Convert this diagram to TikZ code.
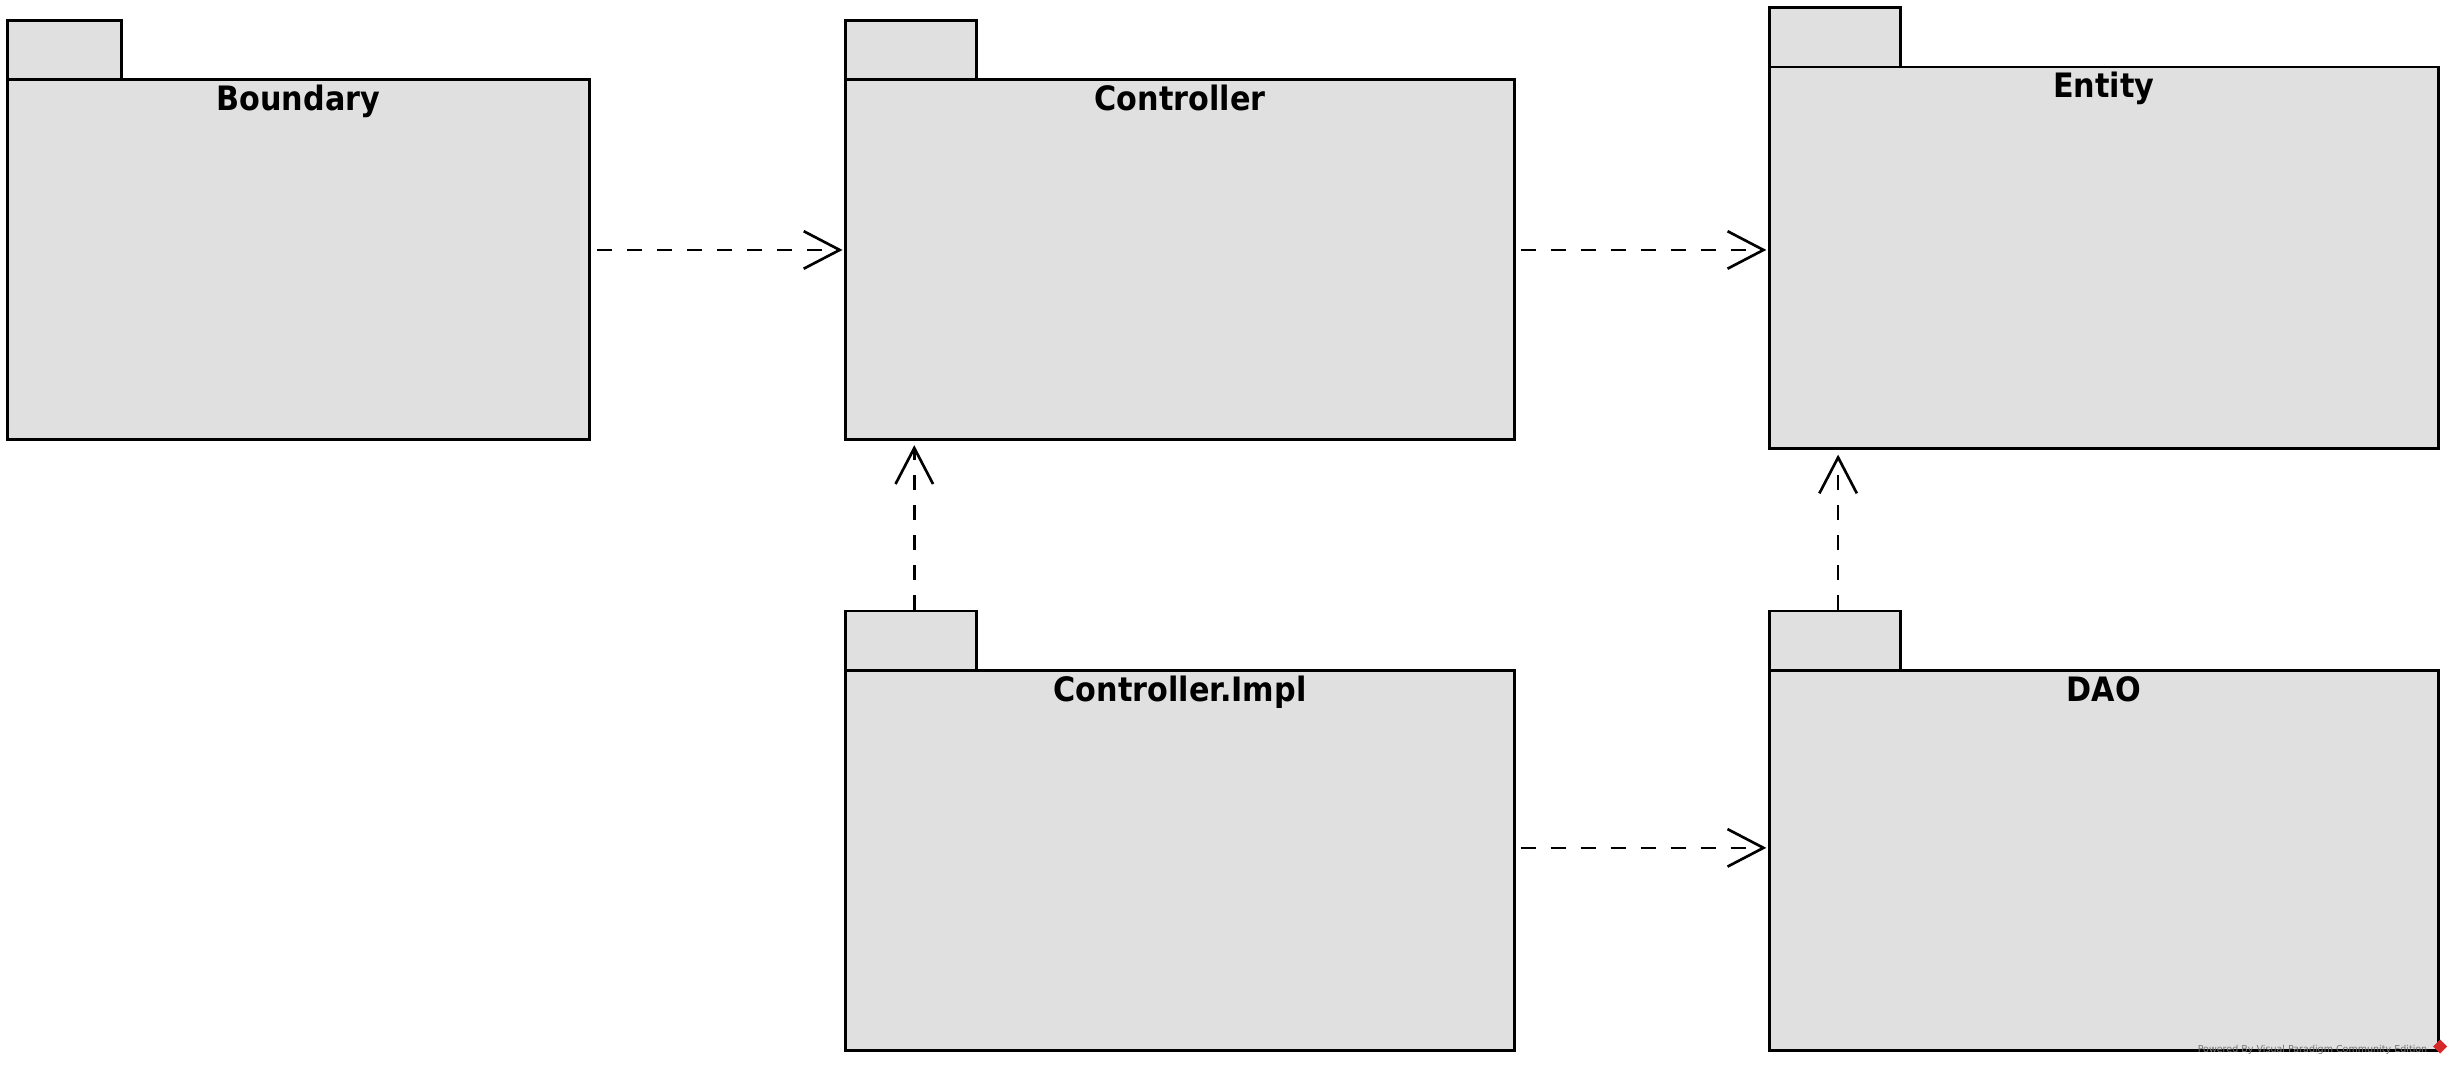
\documentclass[tikz,border=0pt]{standalone}
\usepackage{fontspec}
\newfontfamily\pkgfont[FakeStretch=0.9]{DejaVu Sans}
\newfontfamily\wmfont{DejaVu Sans}
\usetikzlibrary{arrows.meta,calc}
\definecolor{pkgfill}{RGB}{224,224,224}
\definecolor{wmred}{RGB}{214,40,40}
\newcommand\pkgdraw[7]{%
  \node[pkgtab, minimum width=#6] (#1t) at (#2,#3-38) {};
  \node[pkgbody, minimum width=#4, minimum height=#5] (#1) at (#2,#3) {};
  \node[pkgtitle] (#1l) at ($(#1.north)+(0,20.5)$) {#7};
}
\begin{document}
\begin{tikzpicture}[x=1pt,y=-1pt,
  pkgbody/.style={draw=black, fill=pkgfill, line width=1.8pt, rectangle, inner sep=0pt, anchor=north west},
  pkgtab/.style={draw=black, fill=pkgfill, line width=1.8pt, rectangle, inner sep=0pt, anchor=north west, minimum height=38},
  pkgtitle/.style={font=\pkgfont\bfseries\fontsize{21.5}{24}\selectfont, anchor=base, inner sep=0pt},
  dep/.style={draw=black, line width=1.7pt, dash pattern=on 9.6pt off 9.6pt,
    -{Straight Barb[length=23pt,width=24pt,line width=1.7pt]}}
]
\useasboundingbox (0,0) rectangle (1568,681);
\fill[white] (0,0) rectangle (1568,681);

\pkgdraw{B}{4}{50}{372}{230}{73}{Boundary}
\pkgdraw{C}{540}{50}{428}{230}{84}{Controller}
\pkgdraw{E}{1131}{42}{428}{244}{84}{Entity}
\pkgdraw{CI}{540}{428}{428}{243}{84}{Controller.Impl}
\pkgdraw{D}{1131}{428}{428}{243}{84}{DAO}

% dependencies
\draw[dep] ($(B.east)+(4,-6)$) -- ($(C.west)+(-1,-6)$);
\draw[dep] ($(C.east)+(3,-6)$) -- ($(E.west)+(-1,-5)$);
\draw[dep] ($(CIt.north)+(2,0)$) -- ($(CIt.north |- C.south)+(2,3)$);
\draw[dep] ($(Dt.north)+(2,0)$) -- ($(Dt.north |- E.south)+(2,3)$);
\draw[dep] ($(CI.east)+(3,-8)$) -- ($(D.west)+(-1,-8)$);

% watermark
\node[font=\wmfont\fontsize{6.1}{7}\selectfont, text=black!55, anchor=base east, inner sep=0pt] (wm) at (1553,673) {Powered By Visual Paradigm Community Edition};
\fill[wmred] (1561,665) -- (1565.5,669.5) -- (1561,674) -- (1556.5,669.5) -- cycle;
\end{tikzpicture}
\end{document}
